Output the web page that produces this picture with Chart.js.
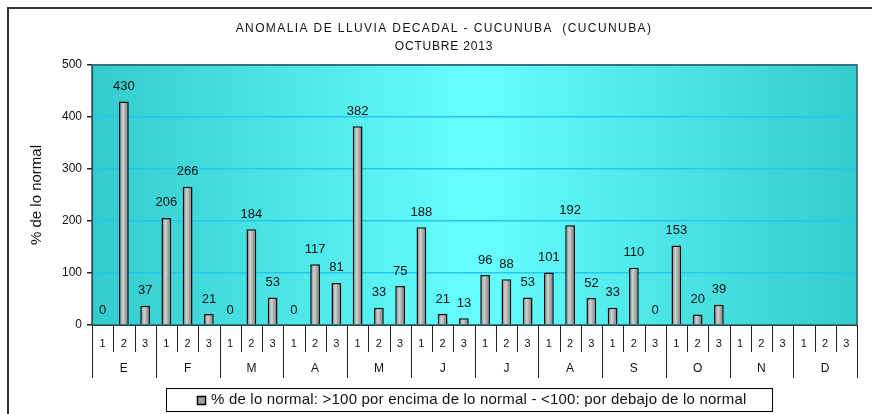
<!DOCTYPE html>
<html>
<head>
<meta charset="utf-8">
<script src="https://cdn.jsdelivr.net/npm/chart.js@4.4.0/dist/chart.umd.min.js"></script>
<style>
  body { margin: 0; background: #fff; }
  #wrap { width: 872px; height: 414px; position: relative; }
</style>
</head>
<body>
<div id="wrap"><canvas id="myChart" width="872" height="414"></canvas></div>
<script>
const months = ["E", "F", "M", "A", "M", "J", "J", "A", "S", "O", "N", "D"];
const decades = ["1", "2", "3"];
// % de lo normal por decada (null = sin dato)
const values = [
  0, 430, 37,
  206, 266, 21,
  0, 184, 53,
  0, 117, 81,
  382, 33, 75,
  188, 21, 13,
  96, 88, 53,
  101, 192, 52,
  33, 110, 0,
  153, 20, 39,
  null, null, null,
  null, null, null
];
const yTicks = [0, 100, 200, 300, 400, 500];
const titleLines = ["ANOMALIA DE LLUVIA DECADAL - CUCUNUBA  (CUCUNUBA)", "OCTUBRE 2013"];
const legendText = "% de lo normal: >100 por encima de lo normal - <100: por debajo de lo normal";

const labels = [];
months.forEach((m) => decades.forEach((d) => labels.push(d)));

const FONT = "'Liberation Sans', Arial, sans-serif";

// background, frame, title, separators, month labels, value labels, legend
const decor = {
  id: "decor",
  beforeDraw(chart) {
    const c = chart.ctx;
    const a = chart.chartArea;
    c.save();
    c.fillStyle = "#fff";
    c.fillRect(0, 0, chart.width, chart.height);
    const g = c.createLinearGradient(a.left, 0, a.right, 0);
    g.addColorStop(0, "#33cccc");
    g.addColorStop(0.5, "#66ffff");
    g.addColorStop(1, "#33cccc");
    c.fillStyle = g;
    c.fillRect(a.left, a.top, a.right - a.left, a.bottom - a.top);
    c.restore();
  },
  afterDraw(chart) {
    const c = chart.ctx;
    const a = chart.chartArea;
    const xs = chart.scales.x;
    c.save();
    // outer frame
    c.strokeStyle = "#333";
    c.lineWidth = 2;
    c.strokeRect(8, 8, 900, 450);
    // plot border
    c.strokeStyle = "#2d5a66";
    c.lineWidth = 1.5;
    c.strokeRect(a.left, a.top, a.right - a.left, a.bottom - a.top);
    // title
    c.fillStyle = "#111";
    c.font = "12px " + FONT;
    c.textAlign = "center";
    c.textBaseline = "middle";
    c.letterSpacing = "1.4px";
    c.fillText(titleLines[0], 444, 29);
    c.letterSpacing = "0.8px";
    c.fillText(titleLines[1], 444, 47);
    c.letterSpacing = "0px";
    // axis separators
    c.strokeStyle = "#222";
    c.lineWidth = 1;
    const step = (a.right - a.left) / labels.length;
    for (let i = 0; i <= labels.length; i++) {
      const x = Math.round(a.left + i * step) + 0.5;
      const y2 = i % 3 === 0 ? a.bottom + 53 : a.bottom + 27;
      c.beginPath();
      c.moveTo(x, a.bottom);
      c.lineTo(x, y2);
      c.stroke();
    }
    // month labels
    c.fillStyle = "#111";
    c.font = "12px " + FONT;
    months.forEach((m, i) => {
      c.fillText(m, xs.getPixelForValue(i * 3 + 1), a.bottom + 44);
    });
    // value labels
    c.font = "13px " + FONT;
    const meta = chart.getDatasetMeta(0);
    meta.data.forEach((bar, i) => {
      const v = values[i];
      if (v === null) return;
      c.fillText(String(v), bar.x, bar.y - 15);
    });
    // legend
    const lx = 166, ly = 388, lw = 606, lh = 23;
    c.strokeStyle = "#000";
    c.strokeRect(lx + 0.5, ly + 0.5, lw, lh);
    c.fillStyle = "#a0a0a0";
    c.fillRect(197, 396, 9, 9);
    c.lineWidth = 1.5;
    c.strokeRect(197.5, 396.5, 8, 8);
    c.fillStyle = "#111";
    c.font = "15px " + FONT;
    c.textAlign = "left";
    c.letterSpacing = "0.2px";
    c.fillText(chart.data.datasets[0].label, 211, 400);
    c.restore();
  }
};

const ctx = document.querySelector("#myChart");

new Chart(ctx, {
  type: "bar",
  data: {
    labels: labels,
    datasets: [
      {
        label: legendText,
        data: values,
        barPercentage: 0.46,
        categoryPercentage: 1,
        borderColor: "#111",
        borderWidth: 1.5,
        backgroundColor: (context) => {
          const chart = context.chart;
          const xs = chart.scales.x;
          if (!xs || !chart.chartArea) return "#a0a0a0";
          const x = xs.getPixelForValue(context.dataIndex);
          const g = chart.ctx.createLinearGradient(x - 5, 0, x + 5, 0);
          g.addColorStop(0, "#6e6e6e");
          g.addColorStop(0.4, "#d2d2d2");
          g.addColorStop(1, "#6e6e6e");
          return g;
        },
      },
    ],
  },
  options: {
    responsive: false,
    animation: false,
    layout: { padding: { top: 65, left: 28, right: 15, bottom: 34 } },
    plugins: {
      legend: { display: false },
      title: { display: false },
      tooltip: { enabled: false },
    },
    scales: {
      x: {
        grid: { display: false },
        border: { display: true, color: "#222" },
        ticks: {
          color: "#111",
          font: { family: FONT, size: 11 },
          padding: 4,
          maxRotation: 0,
          autoSkip: false,
        },
        afterFit: (scale) => {
          scale.height = 55;
        },
      },
      y: {
        min: 0,
        max: 500,
        afterBuildTicks: (scale) => {
          scale.ticks = yTicks.map((v) => ({ value: v }));
        },
        grid: {
          color: "#26c6ee",
          lineWidth: 1.5,
          tickColor: "#222",
          tickLength: 5,
        },
        border: { display: true, color: "#222" },
        ticks: {
          color: "#111",
          font: { family: FONT, size: 12 },
          padding: 5,
        },
        title: {
          display: true,
          text: "% de lo normal",
          color: "#111",
          font: { family: FONT, size: 15 },
          padding: { top: 0, bottom: 0 },
        },
        afterFit: (scale) => {
          scale.width = 64;
        },
      },
    },
  },
  plugins: [decor],
});
</script>
</body>
</html>
